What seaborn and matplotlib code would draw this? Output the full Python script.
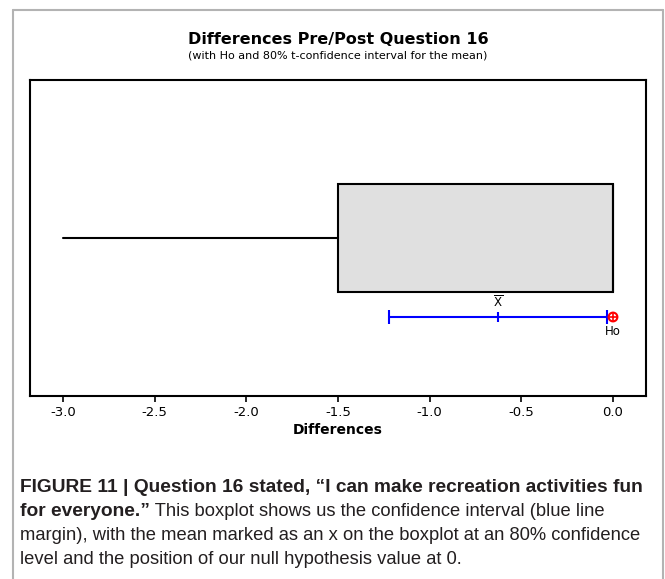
import numpy as np
import matplotlib
matplotlib.use("Agg")
import matplotlib.pyplot as plt
import seaborn as sns
from matplotlib.lines import Line2D

# Pre/post differences for question 16 (n = 8)
differences = [-3, -2, 0, 0, 0, 0, 0, 0]
null_value = 0.0
confidence = 0.80
t_crit = 1.415  # t(0.90, df = 7)
x_ticks = [-3.0, -2.5, -2.0, -1.5, -1.0, -0.5, 0.0]

title = "Differences Pre/Post Question 16"
subtitle = "(with Ho and 80% t-confidence interval for the mean)"
x_label = "Differences"
caption_bold_1 = "FIGURE 11 | Question 16 stated, \u201cI can make recreation activities fun"
caption_bold_2 = "for everyone.\u201d"
caption_rest_2 = " This boxplot shows us the confidence interval (blue line"
caption_3 = "margin), with the mean marked as an x on the boxplot at an 80% confidence"
caption_4 = "level and the position of our null hypothesis value at 0."

# Summary statistics (quartiles as Minitab computes them)
data = np.array(differences, dtype=float)
q1, med, q3 = np.percentile(data, [25, 50, 75], method="weibull")
iqr = q3 - q1
whis_lo = data[data >= q1 - 1.5 * iqr].min()
whis_hi = data[data <= q3 + 1.5 * iqr].max()
mean = data.mean()
se = data.std(ddof=1) / np.sqrt(len(data))
ci_low, ci_high = mean - t_crit * se, mean + t_crit * se

sns.set_theme(style="white")
plt.rcParams["font.family"] = ["DejaVu Sans"]
plt.rcParams["text.color"] = "black"
plt.rcParams["axes.labelcolor"] = "black"
plt.rcParams["xtick.color"] = "black"

W, H = 665, 579
fig = plt.figure(figsize=(W / 100, H / 100), dpi=100)
ax = fig.add_axes([30 / W, 1 - 396 / H, 616 / W, 316 / H])

# Box
stats = [{"med": med, "q1": q1, "q3": q3, "whislo": whis_lo, "whishi": whis_hi, "fliers": []}]
ax.bxp(stats, positions=[0], widths=0.68, orientation="horizontal", patch_artist=True,
       showcaps=False, showfliers=False,
       boxprops=dict(facecolor="#e0e0e0", edgecolor="black", linewidth=1.5),
       whiskerprops=dict(color="black", linewidth=1.5),
       medianprops=dict(color="black", linewidth=1.5))

# Confidence interval for the mean
ci_y = -0.5
ax.plot([ci_low, ci_high], [ci_y, ci_y], color="#0000ff", lw=1.5, zorder=3)
ax.plot([ci_low, ci_high], [ci_y, ci_y], ls="none", marker="|", ms=10, mew=1.5, color="#0000ff", zorder=3)
ax.plot([mean], [ci_y], ls="none", marker="|", ms=7, mew=1.5, color="#0000ff", zorder=3)
ax.text(mean, ci_y + 0.09, r"$\overline{\mathsf{X}}$", ha="center", va="center", fontsize=8.5)

# Null hypothesis
sns.scatterplot(x=[null_value], y=[ci_y], ax=ax, marker="o", s=40, facecolor="none",
                edgecolor="red", linewidth=1.5, zorder=4)
ax.plot([null_value], [ci_y], ls="none", marker="+", ms=7, mew=1.2, color="red", zorder=4)
ax.text(null_value, ci_y - 0.09, "Ho", ha="center", va="center", fontsize=8.5)

ax.set_xlim(-3.18, 0.18)
ax.set_ylim(-1, 1)
ax.set_xticks(x_ticks)
ax.set_xticklabels([f"{v:.1f}" for v in x_ticks], fontsize=9.5)
ax.set_yticks([])
ax.tick_params(axis="x", direction="out", length=4, width=1.2, color="black", pad=3, bottom=True)
for s in ax.spines.values():
    s.set_color("black")
    s.set_linewidth(1.5)
ax.set_xlabel(x_label, fontsize=10, fontweight="bold", labelpad=3)

fig.text(338 / W, 1 - 40 / H, title, ha="center", va="center", fontsize=11.5, fontweight="bold")
fig.text(338 / W, 1 - 56 / H, subtitle, ha="center", va="center", fontsize=8)

# Caption
cap_color = "#231f20"
bold_font = dict(family="Liberation Sans", fontsize=13.75, fontweight="bold",
                 va="baseline", ha="left", color=cap_color)
reg_font = dict(family="Liberation Sans", fontsize=13.2, va="baseline", ha="left", color=cap_color)
fig.text(20 / W, 1 - 492 / H, caption_bold_1, **bold_font)
t2 = fig.text(20 / W, 1 - 516 / H, caption_bold_2, **bold_font)
ax.annotate(caption_rest_2, xy=(1, 0), xycoords=t2, fontsize=13.2, family="Liberation Sans",
            color=cap_color, va="bottom", ha="left", annotation_clip=False)
fig.text(20 / W, 1 - 540 / H, caption_3, **reg_font)
fig.text(20 / W, 1 - 564 / H, caption_4, **reg_font)

# Outer frame (open at the bottom)
frame = dict(transform=fig.transFigure, color="#b3b3b3", lw=1.5)
fig.add_artist(Line2D([13 / W, 13 / W], [0, 1 - 10 / H], **frame))
fig.add_artist(Line2D([13 / W, 663 / W], [1 - 10 / H, 1 - 10 / H], **frame))
fig.add_artist(Line2D([663 / W, 663 / W], [0, 1 - 10 / H], **frame))

fig.savefig("out.png", dpi=100)
